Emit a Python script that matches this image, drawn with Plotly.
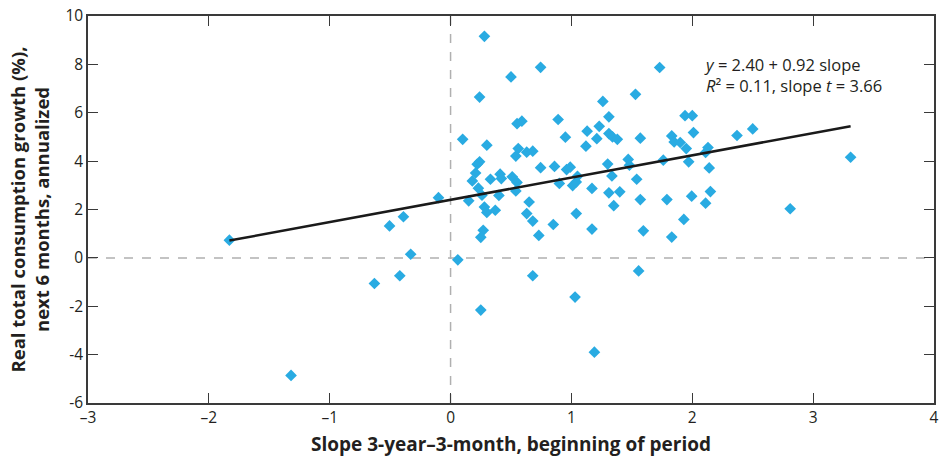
import plotly.graph_objects as go

# Data
slope_x = [-1.83, -1.32, -0.63, -0.505, -0.42, -0.39, -0.33, -0.10, 0.06, 0.10,
           0.15, 0.18, 0.207, 0.22, 0.24, 0.23, 0.26, 0.24, 0.28, 0.30,
           0.28, 0.30, 0.27, 0.25, 0.25, 0.33, 0.37, 0.40, 0.41, 0.42,
           0.50, 0.51, 0.55, 0.54, 0.54, 0.56, 0.55, 0.59, 0.63, 0.68,
           0.65, 0.63, 0.68, 0.68, 0.73, 0.745, 0.745, 0.85, 0.86, 0.89,
           0.90, 0.95, 0.96, 0.99, 1.01, 1.04, 1.05, 1.04, 1.03, 1.12,
           1.13, 1.17, 1.17, 1.19, 1.21, 1.23, 1.26, 1.30, 1.31, 1.31,
           1.34, 1.38, 1.335, 1.31, 1.40, 1.35, 1.47, 1.48, 1.53, 1.54,
           1.57, 1.57, 1.595, 1.556, 1.73, 1.76, 1.79, 1.83, 1.85, 1.90,
           1.95, 1.83, 1.93, 1.94, 2.00, 2.01, 1.97, 1.995, 2.11, 2.13,
           2.14, 2.15, 2.11, 2.37, 2.50, 2.81, 3.31]
growth_y = [0.73, -4.86, -1.06, 1.32, -0.74, 1.70, 0.15, 2.49, -0.08, 4.90,
            2.36, 3.18, 3.51, 3.87, 3.97, 2.88, 2.59, 6.65, 9.16, 4.66,
            2.10, 1.88, 1.14, 0.85, -2.16, 3.25, 1.97, 2.58, 3.46, 3.28,
            7.48, 3.35, 3.12, 2.77, 4.21, 4.52, 5.55, 5.65, 4.37, 4.41,
            2.31, 1.83, 1.52, -0.74, 0.93, 7.88, 3.73, 1.38, 3.78, 5.72,
            3.08, 4.99, 3.65, 3.75, 2.99, 3.14, 3.37, 1.83, -1.62, 4.62,
            5.24, 2.87, 1.19, -3.90, 4.93, 5.44, 6.47, 3.88, 5.83, 5.14,
            5.00, 4.90, 3.39, 2.69, 2.73, 2.16, 4.07, 3.83, 6.76, 3.25,
            4.95, 2.41, 1.12, -0.54, 7.87, 4.04, 2.41, 5.04, 4.79, 4.77,
            4.52, 0.86, 1.59, 5.88, 5.88, 5.18, 3.97, 2.55, 4.36, 4.56,
            3.72, 2.74, 2.26, 5.06, 5.33, 2.03, 4.16]

fit_intercept = 2.40
fit_slope = 0.92

x_tick_vals = [-3, -2, -1, 0, 1, 2, 3, 4]
x_tick_text = ["\u20133", "\u20132", "\u20131", "0", "1", "2", "3", "4"]
y_tick_vals = [-6, -4, -2, 0, 2, 4, 6, 8, 10]
y_tick_text = ["-6", "-4", "-2", "0", "2", "4", "6", "8", "10"]

FONT = "Open Sans"
TEXT_COLOR = "#231f20"
AXIS_COLOR = "#3a3a3a"
POINT_COLOR = "#29abe2"

x_lo, x_hi = min(slope_x), max(slope_x)

fig = go.Figure()
fig.add_trace(go.Scatter(
    x=slope_x, y=growth_y, mode="markers",
    marker=dict(symbol="diamond", size=9, color=POINT_COLOR, line=dict(width=0)),
    showlegend=False, hoverinfo="x+y",
))
fig.add_trace(go.Scatter(
    x=[x_lo, x_hi],
    y=[fit_intercept + fit_slope * x_lo, fit_intercept + fit_slope * x_hi],
    mode="lines", line=dict(color="#1a1a1a", width=2.5),
    showlegend=False, hoverinfo="skip",
))

axis_common = dict(
    showline=True, linecolor=AXIS_COLOR, linewidth=1.5, mirror="ticks",
    ticks="inside", ticklen=10, tickwidth=1.3, tickcolor=AXIS_COLOR,
    showgrid=False, zeroline=False, automargin=False,
    tickfont=dict(family=FONT, size=15.5, color=TEXT_COLOR),
)

fig.update_layout(
    width=939, height=457,
    margin=dict(l=88, r=5, t=16, b=54),
    paper_bgcolor="white", plot_bgcolor="white",
    font=dict(family=FONT, color=TEXT_COLOR),
    xaxis=dict(
        range=[-3, 4], tickvals=x_tick_vals, ticktext=x_tick_text,
        title=dict(text="<b>Slope 3-year\u20133-month, beginning of period</b>",
                   font=dict(family=FONT, size=19, color=TEXT_COLOR), standoff=10),
        **axis_common,
    ),
    yaxis=dict(
        range=[-6, 10], tickvals=y_tick_vals, ticktext=y_tick_text,
        title=dict(text="<b>Real total consumption growth (%),<br>next 6 months, annualized</b>",
                   font=dict(family=FONT, size=18.5, color=TEXT_COLOR), standoff=11),
        **axis_common,
    ),
    shapes=[
        dict(type="line", xref="x", yref="paper", x0=0, x1=0, y0=0, y1=1,
             line=dict(color="#b0b0b0", width=1.5, dash="dash"), layer="below"),
        dict(type="line", xref="paper", yref="y", x0=0, x1=1, y0=0, y1=0,
             line=dict(color="#b0b0b0", width=1.5, dash="dash"), layer="below"),
    ],
    annotations=[
        dict(xref="x", yref="y", x=2.08, y=8.55, xanchor="left", yanchor="top",
             showarrow=False, align="left",
             text="<i>y</i> = 2.40 + 0.92 slope<br><i>R</i>\u00b2 = 0.11, slope <i>t</i> = 3.66",
             font=dict(family=FONT, size=16.5, color=TEXT_COLOR)),
    ],
)

fig.write_html("out.html")
